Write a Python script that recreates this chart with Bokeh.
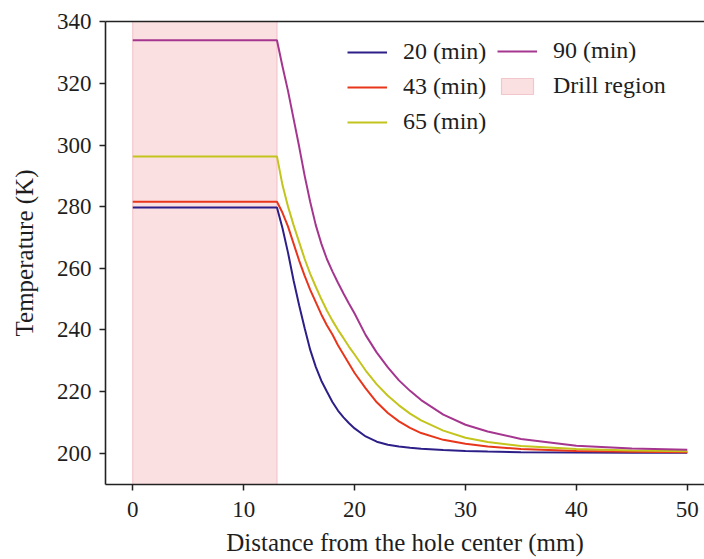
from bokeh.plotting import figure
from bokeh.models import Range1d, LinearAxis, FixedTicker, Legend, LegendItem
from bokeh.embed import file_html
from bokeh.resources import INLINE

# Radial distance from the hole centre (mm)
distance = [0, 13, 13.5, 14, 14.5, 15, 15.5, 16, 16.5, 17, 17.5, 18, 18.5, 19,
            19.5, 20, 21, 22, 23, 24, 25, 26, 28, 30, 32, 35, 40, 45, 50]

# Temperature profiles (K) after each drilling time
temp_20 = [279.7, 279.7, 273.0, 265.0, 256.0, 248.0, 240.5, 233.5, 228.0, 223.5,
           220.0, 216.6, 213.8, 211.6, 209.7, 208.0, 205.4, 203.7, 202.7, 202.1,
           201.7, 201.4, 201.0, 200.7, 200.5, 200.3, 200.2, 200.1, 200.1]
temp_43 = [281.6, 281.6, 278.0, 273.5, 268.0, 262.5, 257.5, 253.0, 249.0, 245.0,
           241.5, 238.5, 235.0, 232.0, 229.0, 226.0, 221.0, 216.5, 213.0, 210.3,
           208.2, 206.5, 204.3, 203.0, 202.1, 201.3, 200.7, 200.4, 200.3]
temp_65 = [296.3, 296.3, 287.0, 280.0, 274.0, 268.5, 263.0, 258.2, 254.0, 250.0,
           246.3, 243.0, 240.0, 237.3, 234.5, 232.0, 226.8, 222.3, 218.6, 215.5,
           212.8, 210.6, 207.3, 205.0, 203.6, 202.3, 201.3, 200.8, 200.6]
temp_90 = [334.0, 334.0, 325.5, 317.5, 308.5, 299.5, 290.0, 281.5, 274.0, 268.0,
           263.0, 259.0, 255.3, 251.8, 248.5, 245.3, 238.3, 232.6, 227.8, 223.6,
           220.2, 217.2, 212.5, 209.2, 207.0, 204.6, 202.4, 201.5, 201.1]

series_labels = ["20 (min)", "43 (min)", "65 (min)", "90 (min)"]
series_colors = ["#2d1f88", "#e8361d", "#c3c41c", "#a5368f"]

# Extent of the drilled zone (mm)
drill_start = 0
drill_end = 13

x_ticks = [0, 10, 20, 30, 40, 50]
y_ticks = [200, 220, 240, 260, 280, 300, 320, 340]

X_MIN, X_MAX = -2.46, 51.55
Y_MIN, Y_MAX = 189.8, 340.1

FONT = "Liberation Serif"
TEXT_COLOR = "#1e1e1e"

p = figure(width=704, height=559, output_backend="svg", toolbar_location=None,
           x_range=Range1d(X_MIN, X_MAX), y_range=Range1d(Y_MIN, Y_MAX),
           min_border_left=105, min_border_right=0, min_border_top=21,
           min_border_bottom=75)
p.outline_line_color = None
p.background_fill_color = "white"
p.border_fill_color = "white"
p.xgrid.visible = False
p.ygrid.visible = False

# Shaded drilled zone spanning the full height of the frame
drill = p.quad(left=[drill_start], right=[drill_end], bottom=[Y_MIN], top=[Y_MAX],
               fill_color="#fbe0e2", line_color="#f3c6cb", line_width=1.2)

renderers = []
for temps, color in zip([temp_20, temp_43, temp_65, temp_90], series_colors):
    r = p.line(distance, temps, line_color=color, line_width=2.0)
    renderers.append(r)

# Axes styling
for ax in (p.xaxis[0], p.yaxis[0]):
    ax.axis_line_color = "#222222"
    ax.axis_line_width = 1.6
    ax.major_tick_line_color = "#222222"
    ax.major_tick_line_width = 1.5
    ax.major_tick_in = 0
    ax.major_tick_out = 6
    ax.minor_tick_line_color = None
    ax.major_label_text_font = FONT
    ax.major_label_text_font_size = "23px"
    ax.major_label_text_color = TEXT_COLOR
    ax.axis_label_text_font = FONT
    ax.axis_label_text_font_size = "25px"
    ax.axis_label_text_font_style = "normal"
    ax.axis_label_text_color = TEXT_COLOR

p.xaxis[0].ticker = FixedTicker(ticks=x_ticks)
p.yaxis[0].ticker = FixedTicker(ticks=y_ticks)
p.xaxis[0].axis_label = "Distance from the hole center (mm)"
p.yaxis[0].axis_label = "Temperature (K)"
p.xaxis[0].major_label_standoff = 11
p.xaxis[0].axis_label_standoff = 9
p.yaxis[0].major_label_standoff = 8
p.yaxis[0].axis_label_standoff = 16

# Top frame line
top_axis = LinearAxis(ticker=FixedTicker(ticks=[]), axis_line_color="#222222",
                      axis_line_width=1.6, major_label_text_font_size="0px",
                      minor_tick_line_color=None, major_tick_line_color=None)
p.add_layout(top_axis, "above")

legend_common = dict(
    background_fill_alpha=0, border_line_color=None,
    label_text_font=FONT, label_text_font_size="24px", label_text_color=TEXT_COLOR,
    glyph_width=40, glyph_height=20, label_standoff=16, spacing=8,
    padding=0, margin=0,
)

leg1 = Legend(items=[LegendItem(label=series_labels[i], renderers=[renderers[i]])
                     for i in range(3)],
              location=(242, 349), **legend_common)
leg2 = Legend(items=[LegendItem(label=series_labels[3], renderers=[renderers[3]]),
                     LegendItem(label="Drill region", renderers=[drill])],
              location=(392, 385), **legend_common)
p.add_layout(leg1)
p.add_layout(leg2)

open("out.html", "w").write(file_html(p, INLINE))
